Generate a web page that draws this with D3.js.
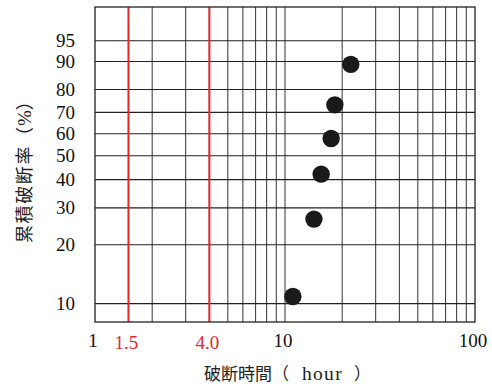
<!DOCTYPE html>
<html>
<head>
<meta charset="utf-8">
<script src="https://cdn.jsdelivr.net/npm/d3@7"></script>
<style>
  html, body { margin: 0; padding: 0; background: #fff; }
  svg { display: block; }
  text { text-spacing-trim: space-all; }
</style>
</head>
<body>
<svg id="chart" width="492" height="387"></svg>
<script>
// ---- data ----
const xTickLabels = [1, 10, 100];
const redLines = [1.5, 4.0];
const redLabels = ["1.5", "4.0"];
const yTicks = [10, 20, 30, 40, 50, 60, 70, 80, 90, 95];
const hours = [11.0, 14.2, 15.5, 17.5, 18.3, 22.2];
const cumPct = [10.9, 26.6, 42.2, 57.8, 73.4, 89.1];
const xDomain = [1, 100];
const yDomainPct = [8, 99];

// ---- layout ----
const L = 95, R = 475, T = 7, B = 322;
const svg = d3.select("#chart");
const red = "#e8242b";
const serif = "'Liberation Serif', 'Times New Roman', serif";
const cjk = "'Noto Sans CJK JP', 'Noto Sans CJK SC', sans-serif";

const weib = p => Math.log(-Math.log(1 - p / 100));
const x = d3.scaleLog().domain(xDomain).range([L, R]);
const y = d3.scaleLinear().domain(yDomainPct.map(weib)).range([B, T]);

// vertical grid (log ticks)
const vTicks = x.ticks().filter(t => t > xDomain[0] && t < xDomain[1]);
svg.append("g").selectAll("line").data(vTicks).join("line")
  .attr("x1", d => x(d)).attr("x2", d => x(d))
  .attr("y1", T).attr("y2", B)
  .attr("stroke", "#444").attr("stroke-width", 1.1);

// horizontal grid
svg.append("g").selectAll("line").data(yTicks).join("line")
  .attr("x1", L).attr("x2", R)
  .attr("y1", d => y(weib(d))).attr("y2", d => y(weib(d)))
  .attr("stroke", "#222").attr("stroke-width", 1.1);

// red lines
svg.append("g").selectAll("line").data(redLines).join("line")
  .attr("x1", d => x(d)).attr("x2", d => x(d))
  .attr("y1", T).attr("y2", B)
  .attr("stroke", red).attr("stroke-width", 2);

// frame
svg.append("rect").attr("x", L).attr("y", T).attr("width", R - L).attr("height", B - T)
  .attr("fill", "none").attr("stroke", "#222").attr("stroke-width", 1.3);

// y tick labels
svg.append("g").attr("font-family", serif).selectAll("text").data(yTicks).join("text")
  .attr("x", 75).attr("y", d => y(weib(d)))
  .attr("dy", "0.34em").attr("text-anchor", "end")
  .attr("font-size", 19).attr("fill", "#111")
  .text(d => d);

// x tick labels
svg.append("g").attr("font-family", serif).selectAll("text").data(xTickLabels).join("text")
  .attr("x", d => x(d) - 2).attr("y", 347)
  .attr("text-anchor", "middle").attr("font-size", 19).attr("fill", "#111")
  .text(d => d);

svg.append("g").attr("font-family", serif).selectAll("text").data(redLines).join("text")
  .attr("x", d => x(d) - 2).attr("y", 349)
  .attr("text-anchor", "middle").attr("font-size", 19).attr("fill", red)
  .text((d, i) => redLabels[i]);

// points
svg.append("g").selectAll("circle").data(hours.map((h, i) => [h, cumPct[i]])).join("circle")
  .attr("cx", d => x(d[0])).attr("cy", d => y(weib(d[1])))
  .attr("r", 8.7).attr("fill", "#1a1a1a");

// x axis title
const xt = svg.append("text").attr("x", 204).attr("y", 380)
  .attr("font-size", 17).attr("fill", "#222").attr("font-family", cjk);
xt.append("tspan").text("破断時間");
xt.append("tspan").attr("x", 272).text("（");
xt.append("tspan").attr("x", 302).attr("font-family", serif).attr("font-size", 19.5)
  .attr("letter-spacing", 1.3).text("hour");
xt.append("tspan").attr("x", 354).text("）");

// y axis title
const yt = svg.append("text")
  .attr("transform", "translate(31,243) rotate(-90)")
  .attr("font-size", 18).attr("fill", "#222").attr("font-family", cjk)
  .attr("letter-spacing", 1.6);
yt.append("tspan").text("累積破断率");
yt.append("tspan").attr("letter-spacing", 0).text("（");
yt.append("tspan").attr("font-family", serif).attr("font-size", 19).attr("letter-spacing", 0).attr("dx", 1).text("%");
yt.append("tspan").attr("letter-spacing", 0).text("）");
</script>
</body>
</html>
